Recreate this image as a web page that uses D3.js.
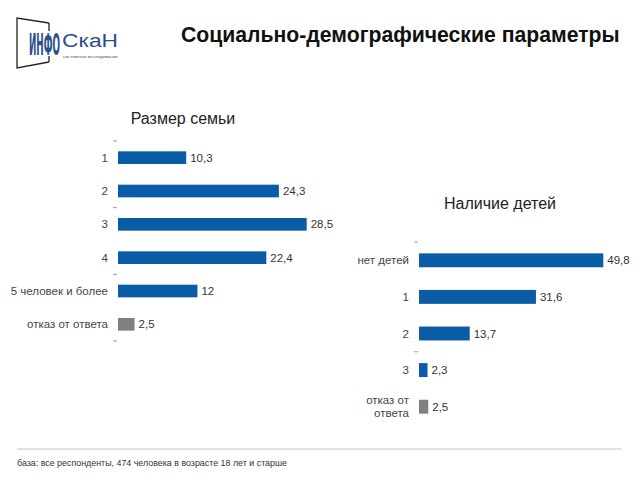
<!DOCTYPE html>
<html><head><meta charset="utf-8">
<script src="https://cdn.jsdelivr.net/npm/d3@7"></script>
<style>html,body{margin:0;padding:0;background:#fff}svg{display:block}</style>
</head><body>
<svg id="c" width="640" height="480"></svg>
<script>
const mainTitle = "Социально-демографические параметры";
const leftTitle = "Размер семьи";
const leftCategories = ["1", "2", "3", "4", "5 человек и более", "отказ от ответа"];
const leftValues = [10.3, 24.3, 28.5, 22.4, 12, 2.5];
const leftLabels = ["10,3", "24,3", "28,5", "22,4", "12", "2,5"];
const rightTitle = "Наличие детей";
const rightCategories = ["нет детей", "1", "2", "3", "отказ от ответа"];
const rightValues = [49.8, 31.6, 13.7, 2.3, 2.5];
const rightLabels = ["49,8", "31,6", "13,7", "2,3", "2,5"];
const footnote = "база: все респонденты, 474 человека в возрасте 18 лет и старше";

const svg = d3.select("#c");
const font = "'Liberation Sans', Arial, sans-serif";
const blue = "#0b5ca6", gray = "#808080";

// logo
const logo = svg.append("g");
logo.append("path").attr("d","M49,23 L17,18 L17,68 L49,62 M49,23 L49,31 M49,62 L49,56")
  .attr("fill","none").attr("stroke","#222").attr("stroke-width",1.3);
function fitText(g, str, x, y, w, size, opts){
  const t = g.append("text").attr("font-family",opts.family).attr("font-size",size)
    .attr("font-weight",opts.weight||"normal").attr("fill",opts.fill).text(str);
  const bw = t.node().getComputedTextLength();
  t.attr("transform",`translate(${x},${y}) scale(${w/bw},1)`);
  return t;
}
fitText(logo, "ИНФО", 29, 55, 31, 30, {family:"'DejaVu Sans Condensed',sans-serif", weight:"bold", fill:"#2b4f8a"});
fitText(logo, "СкаН", 62, 47, 56, 19, {family:font, fill:"#2b4f8a"});
fitText(logo, "системные исследования", 63, 57.5, 55, 3.5, {family:font, fill:"#555"});

svg.append("text").attr("x",181).attr("y",42).attr("font-family",font)
  .attr("font-weight","bold").attr("font-size",21.2).attr("fill","#111").text(mainTitle);

function barChart(opts){
  const g = svg.append("g");
  const x = d3.scaleLinear().domain([0, opts.max]).range([opts.x0, opts.x1]);
  const y = d3.scaleBand().domain(opts.cats).range([opts.y0, opts.y1]).paddingInner(0.62).paddingOuter(0.31);
  g.append("text").attr("x",opts.tx).attr("y",opts.ty).attr("text-anchor","middle")
    .attr("font-family",font).attr("font-size",16).attr("fill","#222").text(opts.title);
  g.selectAll("rect.bar").data(opts.vals).join("rect")
    .attr("x",x(0)).attr("y",(d,i)=>y(opts.cats[i])).attr("width",d=>x(d)-x(0))
    .attr("height",y.bandwidth()).attr("fill",(d,i)=>i===opts.cats.length-1?gray:blue);
  g.selectAll("text.val").data(opts.vals).join("text")
    .attr("x",d=>x(d)+4).attr("y",(d,i)=>y(opts.cats[i])+y.bandwidth()/2+4)
    .attr("font-family",font).attr("font-size",11.5).attr("fill","#333")
    .text((d,i)=>opts.labels[i]);
  const step = y.step();
  opts.dashes.forEach(k=>{
    const yy = opts.y0 + k*step;
    g.append("line").attr("x1",x(0)-5).attr("x2",x(0)-1).attr("y1",yy).attr("y2",yy)
      .attr("stroke","#999").attr("stroke-width",1);
  });
  opts.cats.forEach((c,i)=>{
    const cy = y(c)+y.bandwidth()/2;
    const t = g.append("text").attr("x",x(0)-10).attr("text-anchor","end")
      .attr("font-family",font).attr("font-size",11.5).attr("fill","#444");
    const lines = opts.wrap && opts.wrap[i] ? opts.wrap[i] : [c];
    lines.forEach((ln,j)=>{
      t.append("tspan").attr("x",x(0)-10).attr("y",cy+4+(j-(lines.length-1)/2)*13).text(ln);
    });
  });
}

barChart({cats:leftCategories, vals:leftValues, labels:leftLabels, title:leftTitle,
  max:28.5, x0:118, x1:306.7, y0:141, y1:341, tx:183, ty:124, dashes:[0,2,4,6]});
barChart({cats:rightCategories, vals:rightValues, labels:rightLabels, title:rightTitle,
  max:49.8, x0:419, x1:603.3, y0:242, y1:425, tx:500, ty:209, dashes:[0,3],
  wrap:{4:["отказ от","ответа"]}});

svg.append("line").attr("x1",17).attr("x2",622).attr("y1",449).attr("y2",449)
  .attr("stroke","#c4c4c4").attr("stroke-width",1);
svg.append("text").attr("x",17).attr("y",466).attr("font-family",font)
  .attr("font-size",8.9).attr("fill","#333").text(footnote);
</script>
</body></html>
